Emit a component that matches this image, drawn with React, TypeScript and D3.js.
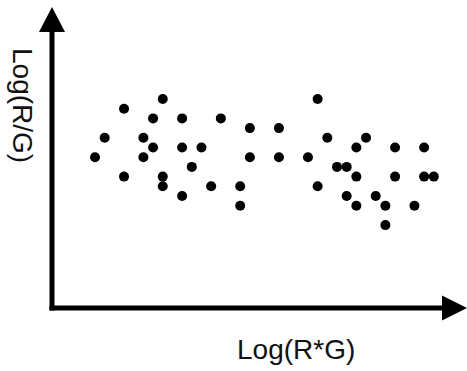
import React, { useEffect, useRef } from 'react';
import * as d3 from 'd3';

// grid positions: x = log(R*G) step, y = log(R/G) step
const logRG_x = [7, 3, 6, 9, 13, 1, 5, 6, 9, 11, 0, 5, 10, 3, 7, 7, 12, 9,
  23, 16, 19, 24, 28, 27, 31, 34, 16, 19, 22, 25, 26, 27, 31, 34, 35, 15, 23, 26, 29, 15, 27, 30, 33, 30];
const logRG_y = [6, 5, 4, 4, 4, 2, 2, 1, 1, 1, 0, 0, -1, -2, -2, -3, -3, -4,
  6, 3, 3, 2, 2, 1, 1, 1, 0, 0, 0, -1, -1, -2, -2, -2, -2, -3, -3, -4, -4, -5, -5, -5, -5, -7];

const xLabel = 'Log(R*G)';
const yLabel = 'Log(R/G)';

const W = 467;
const H = 371;

export default function App() {
  const ref = useRef<SVGSVGElement>(null);

  useEffect(() => {
    const svg = d3.select(ref.current);
    svg.selectAll('*').remove();

    const x = d3.scaleLinear().domain([0, 35]).range([95, 433.8]);
    const y = d3.scaleLinear().domain([6, -7]).range([99, 225.1]);

    const ox = 52, oy = 308;

    // axes with arrow heads
    svg.append('line')
      .attr('x1', ox).attr('y1', oy + 2.5)
      .attr('x2', ox).attr('y2', 30)
      .attr('stroke', '#000').attr('stroke-width', 5);
    svg.append('path')
      .attr('d', `M${ox - 13},32 L${ox},7 L${ox + 13},32 Z`)
      .attr('fill', '#000');
    svg.append('line')
      .attr('x1', ox - 2.5).attr('y1', oy)
      .attr('x2', 444).attr('y2', oy)
      .attr('stroke', '#000').attr('stroke-width', 5);
    svg.append('path')
      .attr('d', `M442,${oy - 12.5} L467,${oy} L442,${oy + 12.5} Z`)
      .attr('fill', '#000');

    const pts = logRG_x.map((v, i) => ({ x: v, y: logRG_y[i] }));
    svg.append('g')
      .selectAll('circle')
      .data(pts)
      .enter()
      .append('circle')
      .attr('cx', d => x(d.x))
      .attr('cy', d => y(d.y))
      .attr('r', 5)
      .attr('fill', '#000');

    svg.append('text')
      .attr('x', 237).attr('y', 359)
      .attr('font-family', 'Arial, "Liberation Sans", sans-serif')
      .attr('font-size', 28)
      .attr('fill', '#111')
      .text(xLabel);

    svg.append('text')
      .attr('transform', 'translate(13,48) rotate(90)')
      .attr('font-family', 'Arial, "Liberation Sans", sans-serif')
      .attr('font-size', 28)
      .attr('fill', '#111')
      .text(yLabel);
  }, []);

  return (
    <svg ref={ref} width={W} height={H}
      style={{ position: 'absolute', left: 0, top: 0, background: '#fff' }} />
  );
}
